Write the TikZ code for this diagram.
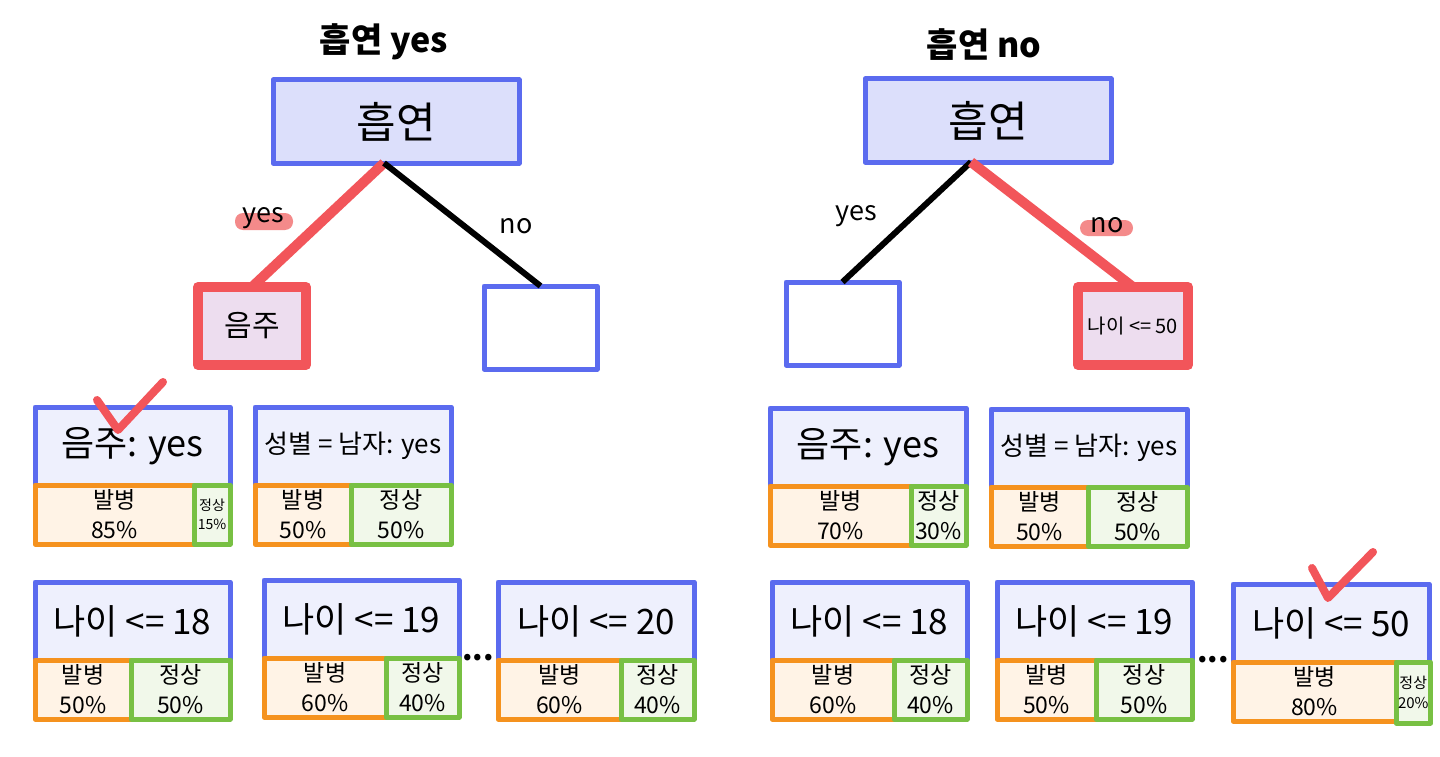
\documentclass[tikz,border=0pt]{standalone}
\usepackage{fontspec}
\setmainfont{Noto Sans CJK KR}
\usepackage{xcolor}
\usepackage{tikz}
\usetikzlibrary{positioning}

\definecolor{nodeblue}{HTML}{5B6BEF}
\definecolor{rootfill}{HTML}{DCDFFB}
\definecolor{leaffill}{HTML}{EEF0FD}
\definecolor{pickred}{HTML}{F2555A}
\definecolor{pickfill}{HTML}{EDDDEF}
\definecolor{pillred}{HTML}{F48A8A}
\definecolor{sickorange}{HTML}{F5921E}
\definecolor{sickfill}{HTML}{FFF3E6}
\definecolor{okgreen}{HTML}{78C043}
\definecolor{okfill}{HTML}{F1F8EA}

\begin{document}
\begin{tikzpicture}[x=1pt, y=-1pt, line join=round, every node/.style={outer sep=0pt},
    title/.style={font=\fontsize{34}{40}\selectfont\bfseries},
    rootbox/.style={draw=nodeblue, line width=5pt, fill=rootfill, anchor=north west,
      minimum width=246pt, minimum height=83pt, font=\fontsize{43}{50}\selectfont},
    blankbox/.style={draw=nodeblue, line width=5pt, fill=white, anchor=north west,
      minimum width=113pt, minimum height=83pt},
    pickbox/.style={draw=pickred, line width=10pt, fill=pickfill, anchor=north west,
      minimum width=108pt, minimum height=78pt},
    condbox/.style={draw=nodeblue, line width=5pt, fill=leaffill, anchor=north west,
      minimum height=78pt, inner sep=2pt, font=\fontsize{35}{40}\selectfont},
    sickbox/.style={draw=sickorange, line width=5pt, fill=sickfill, anchor=north west,
      minimum height=59pt, inner sep=2pt, align=center, font=\fontsize{23}{30}\selectfont},
    okbox/.style={draw=okgreen, line width=5pt, fill=okfill, anchor=north west,
      minimum height=59pt, inner sep=2pt, align=center, font=\fontsize{23}{30}\selectfont},
    tinytext/.style={font=\fontsize{14}{19}\selectfont},
    pathline/.style={draw=pickred, line width=10pt},
    otherline/.style={draw=black, line width=6pt},
    edgelabel/.style={font=\fontsize{27}{30}\selectfont},
    pill/.style={fill=pillred, rounded corners=8pt},
    checkline/.style={draw=pickred, line width=8pt, line cap=round},
    dots/.style={font=\fontsize{30}{30}\selectfont\bfseries, anchor=base}
  ]
  \fill[white] (0,0) rectangle (1440,757);
  \useasboundingbox (0,0) rectangle (1440,757);

  % left tree: smoking yes
  \node[title] (title1) at (384,42) {흡연 yes};
  \node[rootbox] (root1) at (273,80) {흡연};
  \node[pickbox, font=\fontsize{30}{36}\selectfont] (drink) at (198,287) {음주};
  \node[blankbox] (blank1) at (484,286) {};
  \draw[pathline] ([xshift=-12pt]root1.south) -- (drink.north);
  \draw[otherline] ([xshift=-12pt]root1.south) -- (blank1.north);
  \fill[pill] (235,213) rectangle (293,230);
  \node[edgelabel] (yes1) at (263,218) {yes};
  \node[edgelabel] (no1) at (516,226) {no};

  % right tree: smoking no
  \node[title] (title2) at (984,45) {흡연 no};
  \node[rootbox] (root2) at (865,79) {흡연};
  \node[blankbox] (blank2) at (786,282) {};
  \node[pickbox, minimum width=110pt, font=\fontsize{20}{24}\selectfont] (age) at (1078,287) {나이 <= 50};
  \draw[otherline] ([xshift=-17pt]root2.south) -- (blank2.north);
  \draw[pathline] ([xshift=-17pt]root2.south) -- (age.north);
  \fill[pill] (1080,220) rectangle (1133,236);
  \node[edgelabel] (yes2) at (856,216) {yes};
  \node[edgelabel] (no2) at (1107,225) {no};

  % candidates under the left tree
  \node[condbox, minimum width=195pt, font=\fontsize{36}{40}\selectfont] (lA) at (35,407) {음주: yes};
  \node[sickbox, minimum width=159pt] (lA-sick) at (lA.south west) {발병\\85\%};
  \node[okbox, minimum width=36pt, tinytext] (lA-ok) at (lA-sick.north east) {정상\\15\%};
  \draw[checkline] (97,400) -- (118,430) -- (163,382);

  \node[condbox, minimum width=196pt, font=\fontsize{26}{30}\selectfont] (lB) at (255,407) {성별 = 남자: yes};
  \node[sickbox, minimum width=96pt] (lB-sick) at (lB.south west) {발병\\50\%};
  \node[okbox, minimum width=100pt] (lB-ok) at (lB-sick.north east) {정상\\50\%};

  \node[condbox, minimum width=195pt] (lC) at (35,582) {나이 <= 18};
  \node[sickbox, minimum width=96pt] (lC-sick) at (lC.south west) {발병\\50\%};
  \node[okbox, minimum width=99pt] (lC-ok) at (lC-sick.north east) {정상\\50\%};

  \node[condbox, minimum width=195pt] (lD) at (264,580) {나이 <= 19};
  \node[sickbox, minimum width=122pt] (lD-sick) at (lD.south west) {발병\\60\%};
  \node[okbox, minimum width=73pt] (lD-ok) at (lD-sick.north east) {정상\\40\%};

  \node[dots] (dots1) at (478,660) {...};

  \node[condbox, minimum width=196pt] (lE) at (498,582) {나이 <= 20};
  \node[sickbox, minimum width=123pt] (lE-sick) at (lE.south west) {발병\\60\%};
  \node[okbox, minimum width=73pt] (lE-ok) at (lE-sick.north east) {정상\\40\%};

  % candidates under the right tree
  \node[condbox, minimum width=196pt, font=\fontsize{36}{40}\selectfont] (rA) at (770,408) {음주: yes};
  \node[sickbox, minimum width=141pt] (rA-sick) at (rA.south west) {발병\\70\%};
  \node[okbox, minimum width=55pt] (rA-ok) at (rA-sick.north east) {정상\\30\%};

  \node[condbox, minimum width=196pt, font=\fontsize{26}{30}\selectfont] (rB) at (991,409) {성별 = 남자: yes};
  \node[sickbox, minimum width=97pt] (rB-sick) at (rB.south west) {발병\\50\%};
  \node[okbox, minimum width=99pt] (rB-ok) at (rB-sick.north east) {정상\\50\%};

  \node[condbox, minimum width=195pt] (rC) at (772,582) {나이 <= 18};
  \node[sickbox, minimum width=122pt] (rC-sick) at (rC.south west) {발병\\60\%};
  \node[okbox, minimum width=73pt] (rC-ok) at (rC-sick.north east) {정상\\40\%};

  \node[condbox, minimum width=195pt] (rD) at (997,582) {나이 <= 19};
  \node[sickbox, minimum width=99pt] (rD-sick) at (rD.south west) {발병\\50\%};
  \node[okbox, minimum width=96pt] (rD-ok) at (rD-sick.north east) {정상\\50\%};

  \node[dots] (dots2) at (1213,662) {...};

  \node[condbox, minimum width=196pt] (rE) at (1233,584) {나이 <= 50};
  \node[sickbox, minimum width=163pt] (rE-sick) at (rE.south west) {발병\\80\%};
  \node[okbox, minimum width=34pt, minimum height=61pt, font=\fontsize{15}{20}\selectfont] (rE-ok) at (rE-sick.north east) {정상\\20\%};
  \draw[checkline] (1312,568) -- (1328,598) -- (1373,552);
\end{tikzpicture}
\end{document}
